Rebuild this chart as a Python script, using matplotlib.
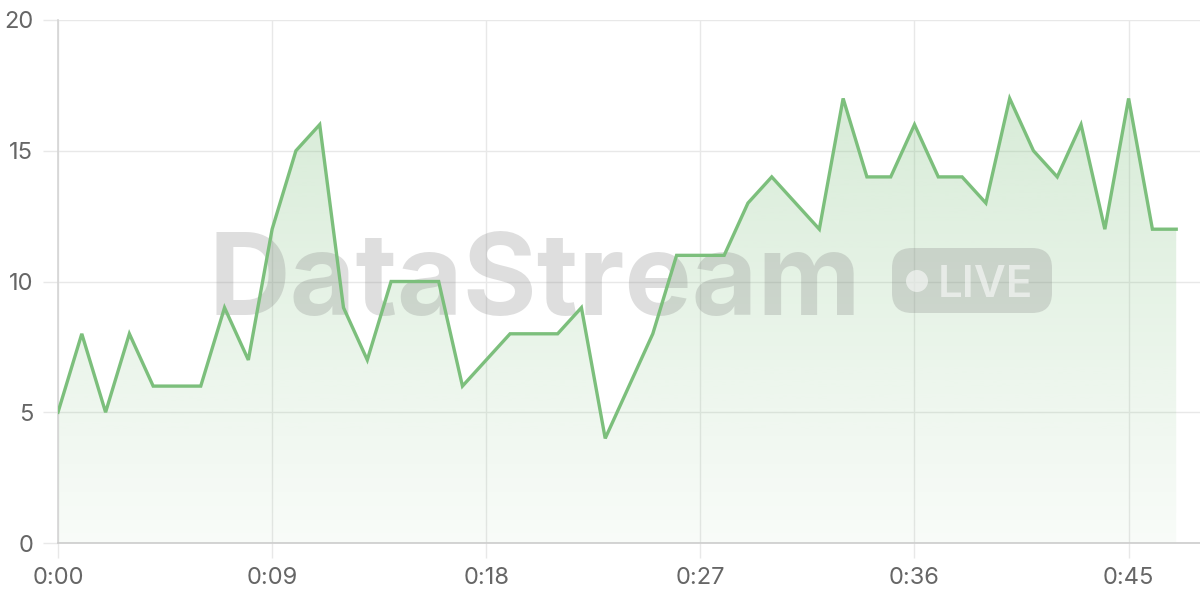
import numpy as np
import matplotlib
matplotlib.use("Agg")
import matplotlib.pyplot as plt
from matplotlib.patches import FancyBboxPatch, Circle, Polygon

# ---- data ----
minutes = list(range(48))
values = [5, 8, 5, 8, 6, 6, 6, 9, 7, 12, 15, 16, 9, 7, 10, 10, 10, 6, 7, 8,
          8, 8, 9, 4, 6, 8, 11, 11, 11, 13, 14, 13, 12, 17, 14, 14, 16, 14, 14, 13,
          17, 15, 14, 16, 12, 17, 12, 12]
x_ticks = [0, 9, 18, 27, 36, 45]
x_tick_labels = ["0:00", "0:09", "0:18", "0:27", "0:36", "0:45"]
y_ticks = [0, 5, 10, 15, 20]
y_tick_labels = ["0", "5", "10", "15", "20"]

plt.rcParams['font.family'] = ['Inter', 'DejaVu Sans']

LINE = "#7cbf7c"
fig = plt.figure(figsize=(12, 6), dpi=100)
ax = fig.add_axes([58/1200, 57/600, 1 - 58/1200, (543 - 20)/600])
ax.set_xlim(0, 48)
ax.set_ylim(0, 20)

# gradient fill under the line
x = np.array(minutes, dtype=float)
y = np.array(values, dtype=float)
poly_xy = np.column_stack([np.r_[x[0], x, x[-1]], np.r_[0, y, 0]])
poly = Polygon(poly_xy, closed=True, facecolor='none', edgecolor='none')
ax.add_patch(poly)
ymax = y.max()
grad = np.linspace(0.30, 0.05, 256).reshape(-1, 1)
rgba = np.zeros((256, 1, 4))
rgba[..., 0] = 124/255
rgba[..., 1] = 191/255
rgba[..., 2] = 124/255
rgba[..., 3] = grad
im = ax.imshow(rgba, extent=[x[0], x[-1], 0, ymax], origin='upper',
               aspect='auto', zorder=1, interpolation='bilinear')
im.set_clip_path(poly)

ax.plot(x, y, color=LINE, lw=2.4, zorder=3, solid_joinstyle='miter')

# axes styling
ax.set_xticks(x_ticks)
ax.set_xticklabels(x_tick_labels)
ax.set_yticks(y_ticks)
ax.set_yticklabels(y_tick_labels)
ax.grid(True, color="#e8e8e8", lw=1)
ax.set_axisbelow(True)
for s in ['top', 'right']:
    ax.spines[s].set_visible(False)
ax.spines['left'].set_color("#d4d4d4")
ax.spines['bottom'].set_color("#cccccc")
ax.spines['left'].set_linewidth(1.2)
ax.spines['bottom'].set_linewidth(1.2)
ax.tick_params(axis='both', colors="#e8e8e8", length=11, width=1,
               labelcolor="#666666", labelsize=17)
ax.tick_params(axis='y', pad=7)
ax.tick_params(axis='x', pad=6)

# watermark
tr = fig.dpi_scale_trans
wm = ax.text(2.08, 2.85, "DataStream", transform=tr, fontsize=84, fontweight='bold',
             color="#808080", alpha=0.26, ha='left', va='baseline', zorder=1.5,
             clip_on=False)
fig.canvas.draw()
bb = wm.get_window_extent()
wm.set_fontsize(84 * 652 / bb.width)

badge = FancyBboxPatch((8.92, 2.87), 1.60, 0.65,
                       boxstyle="round,pad=0,rounding_size=0.2",
                       transform=tr, facecolor="#808080", alpha=0.26,
                       edgecolor='none', zorder=1.5, clip_on=False)
ax.add_patch(badge)
dot = Circle((9.17, 3.19), 0.11, transform=tr, facecolor="white",
             alpha=0.55, edgecolor='none', zorder=1.6, clip_on=False)
ax.add_patch(dot)
lv = ax.text(9.38, 3.03, "LIVE", transform=tr, fontsize=30, fontweight='semibold',
             color="white", alpha=0.55, ha='left', va='baseline', zorder=1.6,
             clip_on=False)
fig.canvas.draw()
bb = lv.get_window_extent()
lv.set_fontsize(30 * 95 / bb.width)

fig.savefig("out.png", dpi=100)
